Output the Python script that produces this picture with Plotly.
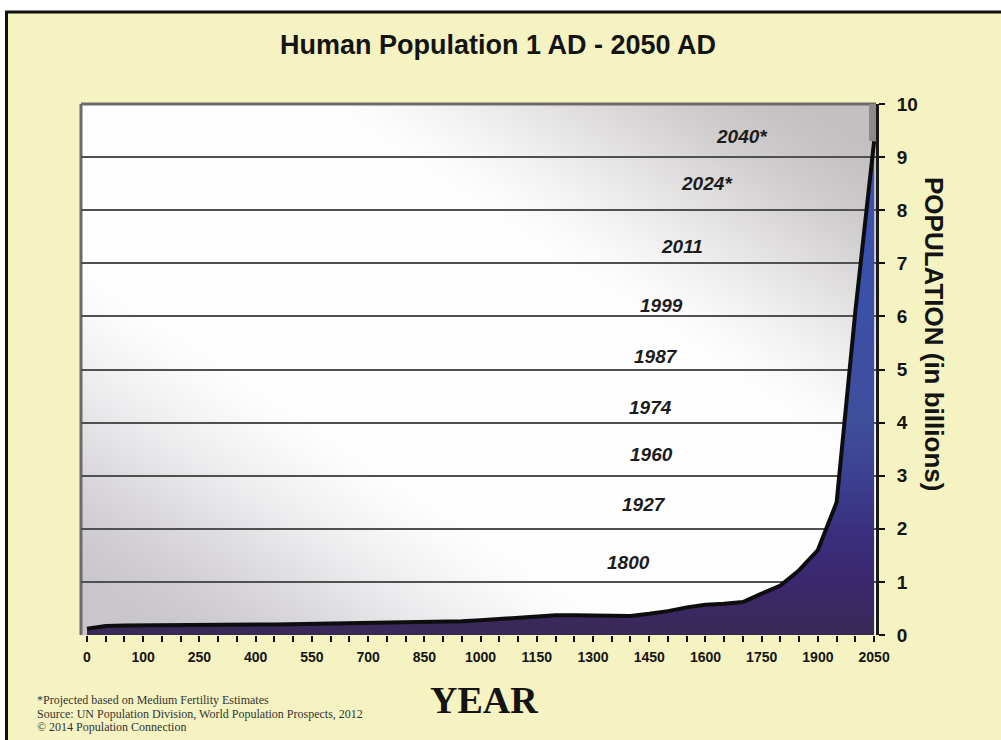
import base64
import struct
import zlib
import plotly.graph_objects as go

# ---------------- data ----------------
years = [0, 33, 67, 100, 150, 200, 250, 300, 350, 400, 450, 500, 550, 600, 650,
         700, 750, 800, 850, 900, 950, 1000, 1050, 1100, 1150, 1200, 1250, 1300,
         1350, 1400, 1450, 1500, 1550, 1600, 1650, 1700, 1750, 1800, 1850, 1900,
         1950, 2000, 2050]
population = [0.12, 0.17, 0.18, 0.185, 0.19, 0.19, 0.195, 0.2, 0.2, 0.2,
              0.2, 0.205, 0.21, 0.21, 0.215, 0.22, 0.225, 0.23, 0.24, 0.25,
              0.26, 0.28, 0.30, 0.32, 0.35, 0.37, 0.37, 0.37, 0.37, 0.36,
              0.40, 0.45, 0.52, 0.57, 0.59, 0.62, 0.78, 0.93, 1.22, 1.6,
              2.5, 6.1, 9.3]
tick_labels = ["0", "100", "250", "400", "550", "700", "850", "1000", "1150",
               "1300", "1450", "1600", "1750", "1900", "2050"]
milestone_years = ["1800", "1927", "1960", "1974", "1987", "1999", "2011", "2024*", "2040*"]
milestone_billions = [1, 2, 3, 4, 5, 6, 7, 8, 9]

# ---------------- layout geometry (pixels) ----------------
W, H = 1001, 740
PL, PR, PT, PB = 81, 876, 104, 635
label_px = [628, 644, 651, 650, 656, 661, 682, 707, 742]
label_dy = [0.37, 0.45, 0.39, 0.29, 0.24, 0.2, 0.31, 0.51, 0.38]


def px(x):
    return (x - PL) / (PR - PL)


def py(y):
    return (PB - y) / (PB - PT)


# ---------------- background gradient image ----------------
def gradient_png(w, h):
    white = (254, 254, 254)
    gray_tr = (196, 192, 193)
    gray_bl = (200, 197, 203)
    raw = bytearray()
    for j in range(h):
        raw.append(0)
        v = j / (h - 1)
        for i in range(w):
            u = i / (w - 1)
            d = abs(u - v)
            t = min(1.0, max(0.0, (d - 0.3) / 0.62))
            t = t * t * (3 - 2 * t) * 0.6 + t * 0.4
            g = gray_tr if u > v else gray_bl
            raw += bytes(int(round(white[k] * (1 - t) + g[k] * t)) for k in range(3))

    def chunk(tag, data):
        c = struct.pack(">I", len(data)) + tag + data
        return c + struct.pack(">I", zlib.crc32(tag + data) & 0xFFFFFFFF)

    png = (b"\x89PNG\r\n\x1a\n"
           + chunk(b"IHDR", struct.pack(">IIBBBBB", w, h, 8, 2, 0, 0, 0))
           + chunk(b"IDAT", zlib.compress(bytes(raw), 9))
           + chunk(b"IEND", b""))
    return "data:image/png;base64," + base64.b64encode(png).decode()


cats = [str(y) for y in years]
ticktext = [c if c in tick_labels else "" for c in cats]

fig = go.Figure()
fig.add_trace(go.Scatter(
    x=cats, y=population, mode="lines",
    line=dict(color="#0d0d0d", width=4),
    fill="tozeroy",
    fillgradient=dict(
        type="vertical", start=0, stop=9.3,
        colorscale=[[0, "#392a56"], [0.1, "#3b276c"], [0.22, "#3a3080"],
                    [0.32, "#3c4191"], [0.43, "#3e4e9b"], [0.7, "#3c50aa"],
                    [1, "#3b52b0"]]),
    hoverinfo="skip", showlegend=False,
))

font_sans = "Liberation Sans, Arial, sans-serif"
font_serif = "Liberation Serif, Times New Roman, serif"

fig.update_layout(
    width=W, height=H,
    margin=dict(l=PL, r=W - PR, t=PT, b=H - PB, pad=0),
    paper_bgcolor="#f5f3c1",
    plot_bgcolor="white",
    showlegend=False,
    xaxis=dict(
        type="category", categoryorder="array", categoryarray=cats,
        range=[-0.32, 42.1],
        tickmode="array", tickvals=cats, ticktext=ticktext,
        ticks="outside", ticklen=6, tickwidth=2, tickcolor="#111",
        tickfont=dict(family=font_sans, size=14, color="#151515", weight="bold"),
        showgrid=False, showline=False, zeroline=False,
        ticklabelstandoff=3,
    ),
    yaxis=dict(
        side="right", range=[0, 10], dtick=1, tick0=0,
        ticks="outside", ticklen=6, tickwidth=2, tickcolor="#111",
        tickfont=dict(family=font_sans, size=19, color="#151515", weight="bold"),
        showgrid=True, gridcolor="#505050", gridwidth=2,
        showline=True, linecolor="#1a1a1a", linewidth=3,
        zeroline=False, ticklabelstandoff=8,
    ),
    images=[dict(
        source=gradient_png(300, 200), xref="paper", yref="paper",
        x=0, y=1, sizex=1, sizey=1, sizing="stretch",
        xanchor="left", yanchor="top", layer="below",
    )],
)

shapes = [
    # white margins outside the framed card
    dict(type="rect", xref="paper", yref="paper", x0=px(-10), x1=px(W + 10),
         y0=py(11), y1=py(-10), fillcolor="white", line=dict(width=0)),
    dict(type="rect", xref="paper", yref="paper", x0=px(-10), x1=px(6),
         y0=py(H + 10), y1=py(-10), fillcolor="white", line=dict(width=0)),
    # black card border
    dict(type="line", xref="paper", yref="paper", x0=px(5), x1=px(W + 10),
         y0=py(12), y1=py(12), line=dict(color="#111", width=3)),
    dict(type="line", xref="paper", yref="paper", x0=px(6.5), x1=px(6.5),
         y0=py(11), y1=py(H + 10), line=dict(color="#111", width=3)),
    # plot frame: left and top edges
    dict(type="line", xref="paper", yref="paper", x0=0, x1=0, y0=0, y1=1,
         line=dict(color="#6e6a6a", width=3), layer="below"),
    dict(type="line", xref="paper", yref="paper", x0=0, x1=1, y0=1, y1=1,
         line=dict(color="#6e6a6a", width=3), layer="below"),
    # darker strip at the right wall above the curve end
    dict(type="rect", xref="paper", yref="y", x0=px(869), x1=1, y0=9.3, y1=10,
         fillcolor="#8e8a8a", line=dict(width=0), layer="below"),
]
fig.update_layout(shapes=shapes)

annotations = [
    dict(text="Human Population 1 AD - 2050 AD", x=px(498), y=py(45),
         font=dict(family=font_sans, size=27, color="#141414", weight="bold")),
    dict(text="POPULATION (in billions)", x=px(934), y=py(334), textangle=90,
         font=dict(family=font_sans, size=26, color="#141414", weight="bold")),
    dict(text="YEAR", x=px(484), y=py(700),
         font=dict(family=font_serif, size=38, color="#141414", weight="bold")),
]
foot = ["*Projected based on Medium Fertility Estimates",
        "Source: UN Population Division, World Population Prospects, 2012",
        "\u00a9 2014 Population Connection"]
for k, line in enumerate(foot):
    annotations.append(dict(text=line, x=px(35), y=py(700 + 13.5 * k), xanchor="left",
                            font=dict(family=font_serif, size=12, color="#333")))
for name, b, xp, dy in zip(milestone_years, milestone_billions, label_px, label_dy):
    annotations.append(dict(text=name, xref="paper", yref="y", x=px(xp), y=b + dy,
                            font=dict(family=font_sans, size=19, color="#1c1c1c",
                                      weight="bold", style="italic")))
for a in annotations:
    a.setdefault("xref", "paper")
    a.setdefault("yref", "paper")
    a.setdefault("xanchor", "center")
    a.setdefault("yanchor", "middle")
    a["showarrow"] = False
fig.update_layout(annotations=annotations)

fig.write_html(
    "out.html",
    config={"displayModeBar": False},
    post_script="document.body.style.margin='0';document.body.style.padding='0';",
)
